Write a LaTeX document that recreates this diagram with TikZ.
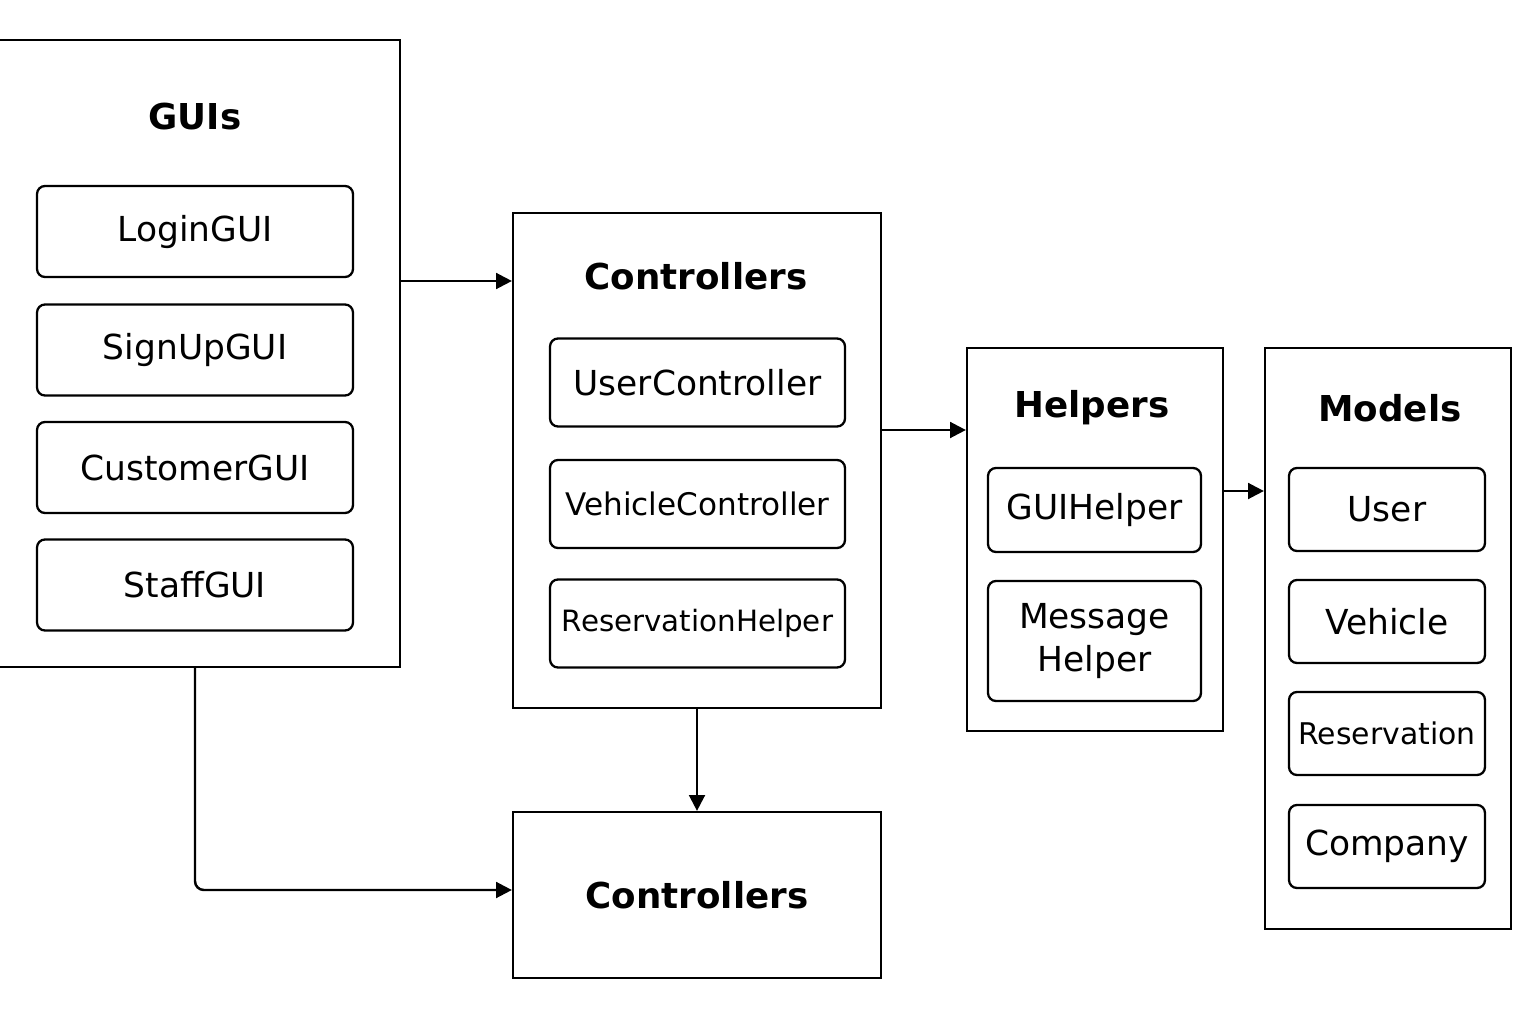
\documentclass[tikz,border=0pt]{standalone}
\usepackage{fontspec}
\setmainfont{DejaVu Sans}
\usetikzlibrary{positioning, arrows.meta}

\begin{document}
\begin{tikzpicture}[
    x=0.02cm, y=-0.02cm,
    group/.style={draw=black, line width=1.3pt, inner sep=0pt, fill=white},
    title/.style={font=\fontsize{20.3}{24}\selectfont\bfseries},
    item/.style={draw=black, line width=1.3pt, rounded corners=4.5pt, inner sep=0pt,
        align=center, font=\fontsize{19.6}{23}\selectfont},
    small/.style={font=\fontsize{17}{20}\selectfont},
    link/.style={-{Triangle[length=9pt, width=9pt]}, line width=1.4pt, draw=black}
]
    \useasboundingbox (0,0) rectangle (1536,1024);
    \clip (0,0) rectangle (1536,1024);

    % GUI layer
    \node[group, minimum width=8.1cm, minimum height=12.54cm] (guis) at (197.5, 353.5) {};
    \node[title] (guis_t) at (195, 117) {GUIs};
    \node[item, minimum width=6.32cm, minimum height=1.82cm] (login) at (195, 231.5) {LoginGUI};
    \node[item, minimum width=6.32cm, minimum height=1.82cm] (signup) at (195, 350) {SignUpGUI};
    \node[item, minimum width=6.32cm, minimum height=1.82cm] (customer) at (195, 467.5) {CustomerGUI};
    \node[item, minimum width=6.32cm, minimum height=1.82cm] (staff) at (195, 585) {StaffGUI};

    % Controller layer
    \node[group, minimum width=7.36cm, minimum height=9.9cm] (ctrl) at (697, 460.5) {};
    \node[title] (ctrl_t) at (696, 276) {Controllers};
    \node[item, minimum width=5.9cm, minimum height=1.76cm] (userc) at (697.5, 382.5) {UserController};
    \node[item, minimum width=5.9cm, minimum height=1.76cm, font=\fontsize{17.7}{20}\selectfont] (vehiclec) at (697.5, 504) {VehicleController};
    \node[item, minimum width=5.9cm, minimum height=1.76cm, font=\fontsize{16.7}{20}\selectfont] (reshelp) at (697.5, 623.5) {ReservationHelper};

    % Helpers
    \node[group, minimum width=5.12cm, minimum height=7.66cm] (helpers) at (1095, 539.5) {};
    \node[title] (helpers_t) at (1092, 408) {Helpers};
    \node[item, minimum width=4.26cm, minimum height=1.68cm] (guihelper) at (1094.5, 510) {GUIHelper};
    \node[item, minimum width=4.26cm, minimum height=2.4cm, font=\fontsize{19.6}{25}\selectfont] (msghelper) at (1094.5, 641) {Message\\Helper};

    % Models
    \node[group, minimum width=4.92cm, minimum height=11.62cm] (models) at (1388, 638.5) {};
    \node[title] (models_t) at (1390, 408) {Models};
    \node[item, minimum width=3.92cm, minimum height=1.66cm] (user) at (1387, 509.5) {User};
    \node[item, minimum width=3.92cm, minimum height=1.66cm] (vehicle) at (1387, 621.5) {Vehicle};
    \node[item, small, minimum width=3.92cm, minimum height=1.66cm] (reservation) at (1387, 733.5) {Reservation};
    \node[item, minimum width=3.92cm, minimum height=1.66cm] (company) at (1387, 846.5) {Company};

    % Lower controller block
    \node[group, minimum width=7.36cm, minimum height=3.32cm, title] (ctrl_low) at (697, 895) {Controllers};

    % Connectors
    \draw[link] (guis.east |- 0,281) -- (ctrl.west |- 0,281);
    \draw[link] (ctrl.east |- 0,430) -- (helpers.west |- 0,430);
    \draw[link] (helpers.east |- 0,491) -- (models.west |- 0,491);
    \draw[link] (ctrl.south) -- (ctrl_low.north);
    \draw[link, rounded corners=5pt] (guis.south -| 195,0) |- (ctrl_low.west |- 0,890);
\end{tikzpicture}
\end{document}
